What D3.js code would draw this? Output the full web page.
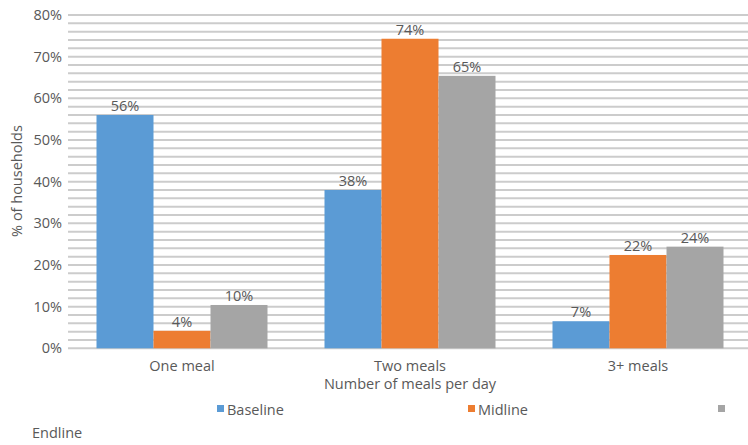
<!DOCTYPE html>
<html>
<head>
<meta charset="utf-8">
<script src="https://cdn.jsdelivr.net/npm/d3@7"></script>
<style>
  body { margin: 0; background: #fff; }
  text { font-family: "Open Sans", "Noto Sans", sans-serif; fill: #595959; font-size: 14.5px; }
</style>
</head>
<body>
<svg id="chart" width="748" height="445"></svg>
<script>
// data
var categories = ["One meal", "Two meals", "3+ meals"];
var seriesNames = ["Baseline", "Midline", "Endline"];
var baseline = [56, 38, 6.5];
var midline = [4.2, 74.3, 22.4];
var endline = [10.4, 65.4, 24.4];
var yTicks = [0, 10, 20, 30, 40, 50, 60, 70, 80];

var colors = ["#5b9bd5", "#ed7d31", "#a5a5a5"];
var series = [baseline, midline, endline];

var svg = d3.select("#chart");

var plotLeft = 68, plotRight = 752, plotTop = 15, plotBottom = 348.3;

var x = d3.scaleBand()
  .domain(categories)
  .range([plotLeft, plotRight])
  .paddingInner(0.25)
  .paddingOuter(0.125);

var xs = d3.scaleBand()
  .domain(seriesNames)
  .range([0, x.bandwidth()]);

var y = d3.scaleLinear()
  .domain([0, 80])
  .range([plotBottom, plotTop]);

// gridlines every 2%
svg.append("g")
  .selectAll("line")
  .data(d3.range(0, 81, 2))
  .enter().append("line")
  .attr("x1", plotLeft)
  .attr("x2", 748)
  .attr("y1", d => y(d))
  .attr("y2", d => y(d))
  .attr("stroke", "#cccccc")
  .attr("stroke-width", 2);

// y tick labels
svg.append("g")
  .selectAll("text")
  .data(yTicks)
  .enter().append("text")
  .attr("x", 62)
  .attr("y", d => y(d) + 5)
  .attr("text-anchor", "end")
  .text(d => d + "%");

// bars
var groups = svg.append("g")
  .selectAll("g")
  .data(series)
  .enter().append("g")
  .attr("fill", (d, i) => colors[i]);

groups.each(function(vals, si) {
  var g = d3.select(this);
  g.selectAll("rect")
    .data(vals)
    .enter().append("rect")
    .attr("x", (d, i) => x(categories[i]) + xs(seriesNames[si]))
    .attr("y", d => y(d))
    .attr("width", xs.bandwidth())
    .attr("height", d => y(0) - y(d));
  g.selectAll("text")
    .data(vals)
    .enter().append("text")
    .attr("x", (d, i) => x(categories[i]) + xs(seriesNames[si]) + xs.bandwidth() / 2)
    .attr("y", d => y(d) - 4)
    .attr("text-anchor", "middle")
    .text(d => Math.round(d) + "%");
});

// category labels
svg.append("g")
  .selectAll("text")
  .data(categories)
  .enter().append("text")
  .attr("x", d => x(d) + x.bandwidth() / 2)
  .attr("y", 371)
  .attr("text-anchor", "middle")
  .text(d => d);

// axis titles
svg.append("text")
  .attr("x", 410)
  .attr("y", 389)
  .attr("text-anchor", "middle")
  .text("Number of meals per day");

svg.append("text")
  .attr("transform", "translate(22,181) rotate(-90)")
  .attr("text-anchor", "middle")
  .text("% of households");

// legend (Endline label wrapped onto next line)
var legendX = [217, 468, 718];
var legend = svg.append("g")
  .selectAll("g")
  .data(seriesNames)
  .enter().append("g");

legend.append("rect")
  .attr("x", (d, i) => legendX[i])
  .attr("y", 405)
  .attr("width", 7)
  .attr("height", 7)
  .attr("fill", (d, i) => colors[i]);

legend.append("text")
  .attr("x", (d, i) => i < 2 ? legendX[i] + 10 : 32)
  .attr("y", (d, i) => i < 2 ? 415 : 438)
  .text(d => d);
</script>
</body>
</html>
